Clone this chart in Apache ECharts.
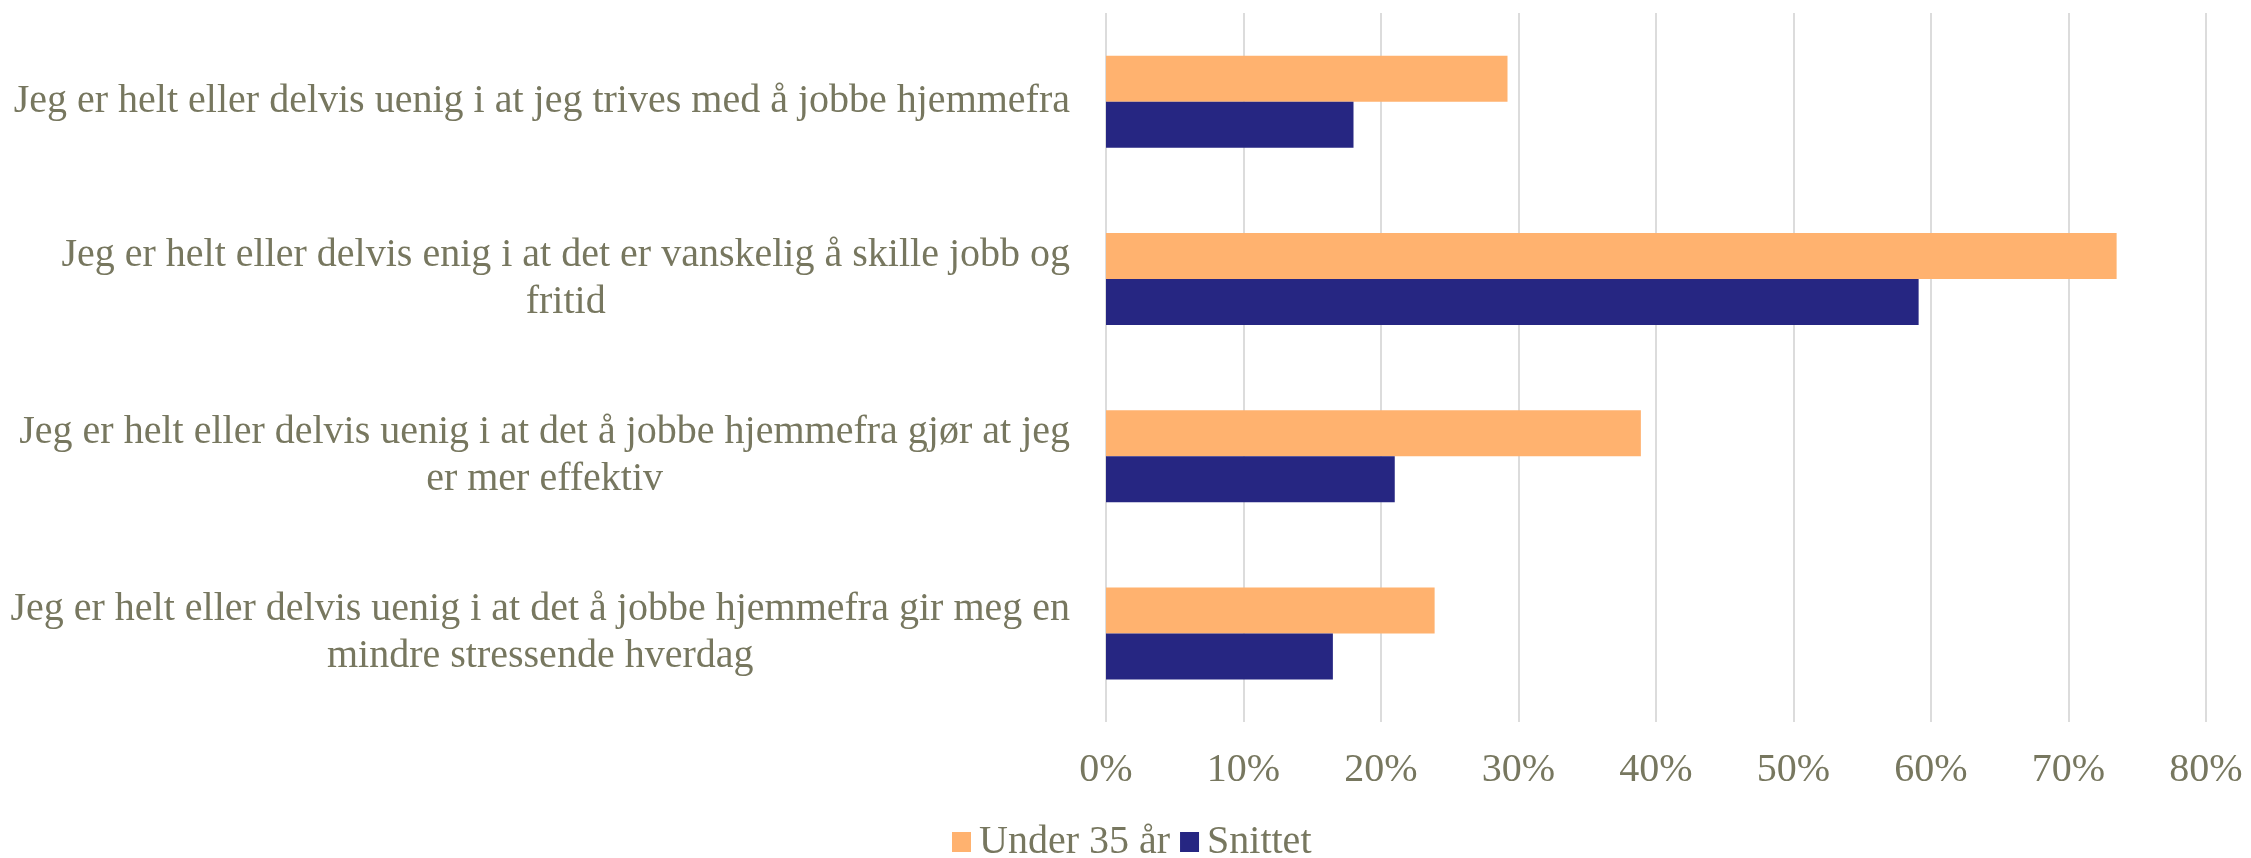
<!DOCTYPE html>
<html>
<head>
<meta charset="utf-8">
<script src="https://cdn.jsdelivr.net/npm/echarts@6/dist/echarts.min.js"></script>
<style>
  html, body { margin: 0; padding: 0; background: #fff; }
  #main { width: 2251px; height: 858px; }
</style>
</head>
<body>
<div id="main"></div>
<script>
// categories, top to bottom (line breaks as in the picture)
const categories = [
  'Jeg er helt eller delvis uenig i at jeg trives med å jobbe hjemmefra',
  'Jeg er helt eller delvis enig i at det er vanskelig å skille jobb og\nfritid',
  'Jeg er helt eller delvis uenig i at det å jobbe hjemmefra gjør at jeg\ner mer effektiv',
  'Jeg er helt eller delvis uenig i at det å jobbe hjemmefra gir meg en\nmindre stressende hverdag'
];
const seriesNames = ['Under 35 år', 'Snittet'];
// percent
const under35 = [29.2, 73.5, 38.9, 23.9];
const snittet = [18.0, 59.1, 21.0, 16.5];

const textColor = '#77775f';
const font = 'Liberation Serif';

let chart = echarts.init(document.getElementById('main'));
chart.setOption({
  animation: false,
  textStyle: { fontFamily: font },
  grid: { left: 1106, right: 45, top: 13, bottom: 136 },
  legend: {
    data: seriesNames,
    left: 947,
    top: 817,
    itemWidth: 19,
    itemHeight: 20,
    itemGap: 10,
    icon: 'rect',
    textStyle: { fontFamily: font, fontSize: 40, color: textColor, padding: [0, 0, 0, 3] }
  },
  xAxis: {
    type: 'value',
    min: 0,
    max: 80,
    interval: 10,
    axisLine: { show: false },
    axisTick: { show: false },
    splitLine: { lineStyle: { color: '#dcdcdc', width: 2 } },
    axisLabel: {
      margin: 28,
      fontFamily: font,
      fontSize: 40,
      color: textColor,
      formatter: v => v + '%'
    }
  },
  yAxis: {
    type: 'category',
    inverse: true,
    data: categories,
    axisLine: { show: false },
    axisTick: { show: false },
    axisLabel: {
      margin: 36,
      align: 'right',
      formatter: v => v.split('\n').map(s => '{c|' + s + '}').join('\n'),
      rich: {
        c: { align: 'center', fontFamily: font, fontSize: 40, lineHeight: 47, color: textColor }
      }
    }
  },
  series: [{
    name: seriesNames[0],
    type: 'bar',
    data: under35,
    barWidth: 46,
    barGap: '0%',
    itemStyle: { color: '#FFB26F' }
  }, {
    name: seriesNames[1],
    type: 'bar',
    data: snittet,
    barWidth: 46,
    barGap: '0%',
    itemStyle: { color: '#262682' }
  }]
});
</script>
</body>
</html>
